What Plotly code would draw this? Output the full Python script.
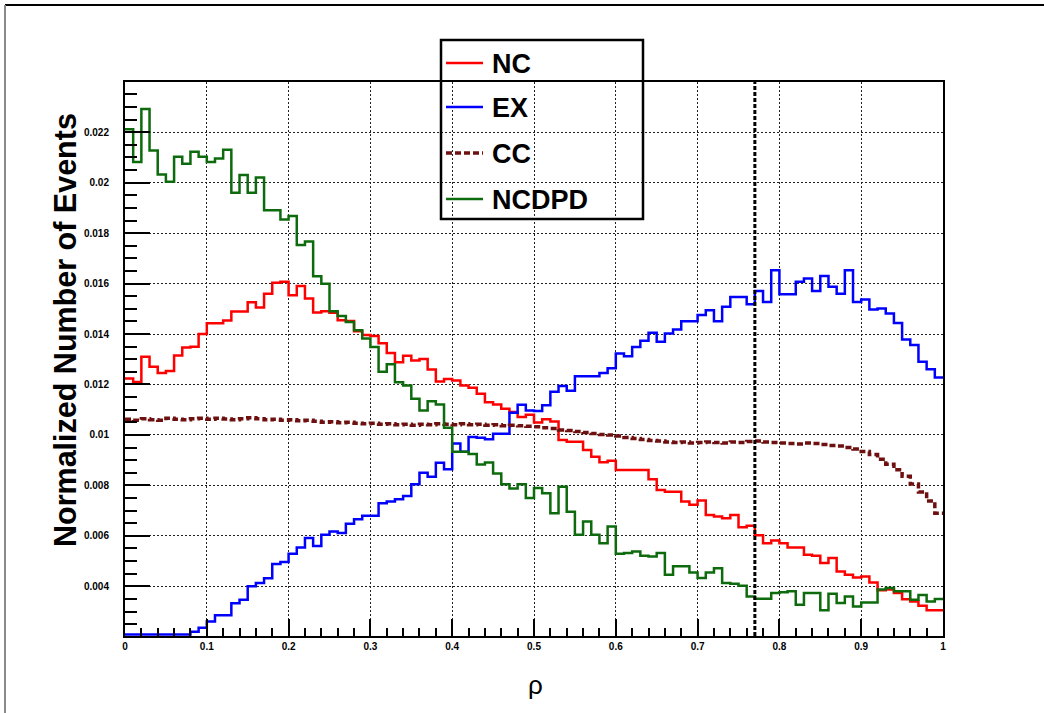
import numpy as np
import plotly.graph_objects as go

# ---- histogram definition: 100 bins over rho in [0, 1] ----
RHO_LO, RHO_HI, N_BINS = 0.0, 1.0, 100

# normalized bin contents
nc = [0.01224, 0.01210, 0.01310, 0.01270, 0.01246, 0.01253, 0.01315, 0.01347, 0.01350, 0.01400,
      0.01443, 0.01443, 0.01454, 0.01489, 0.01489, 0.01526, 0.01505, 0.01560, 0.01603, 0.01607,
      0.01554, 0.01590, 0.01541, 0.01485, 0.01490, 0.01484, 0.01455, 0.01452, 0.01411, 0.01396,
      0.01392, 0.01363, 0.01325, 0.01288, 0.01314, 0.01295, 0.01301, 0.01259, 0.01212, 0.01222,
      0.01216, 0.01196, 0.01187, 0.01163, 0.01130, 0.01121, 0.01104, 0.01091, 0.01071, 0.01080,
      0.01049, 0.01062, 0.01053, 0.00980, 0.00973, 0.00973, 0.00940, 0.00914, 0.00892, 0.00898,
      0.00861, 0.00861, 0.00861, 0.00861, 0.00824, 0.00782, 0.00775, 0.00775, 0.00736, 0.00723,
      0.00740, 0.00683, 0.00677, 0.00670, 0.00683, 0.00634, 0.00640, 0.00602, 0.00571, 0.00582,
      0.00571, 0.00554, 0.00554, 0.00525, 0.00521, 0.00492, 0.00512, 0.00459, 0.00446, 0.00435,
      0.00439, 0.00415, 0.00384, 0.00387, 0.00373, 0.00349, 0.00340, 0.00323, 0.00305, 0.00305]

ex = [0.0, 0.0, 0.0, 0.0, 0.0, 0.0, 0.0, 0.0, 0.00220, 0.00236,
      0.00260, 0.00285, 0.00285, 0.00333, 0.00347, 0.00400, 0.00413, 0.00432, 0.00488, 0.00496,
      0.00529, 0.00554, 0.00591, 0.00560, 0.00604, 0.00617, 0.00611, 0.00648, 0.00666, 0.00680,
      0.00680, 0.00729, 0.00736, 0.00745, 0.00758, 0.00805, 0.00850, 0.00834, 0.00890, 0.00864,
      0.00966, 0.00933, 0.00992, 0.00989, 0.00983, 0.01005, 0.01005, 0.01088, 0.01120, 0.01097,
      0.01095, 0.01118, 0.01171, 0.01194, 0.01175, 0.01233, 0.01233, 0.01233, 0.01246, 0.01264,
      0.01323, 0.01312, 0.01349, 0.01373, 0.01405, 0.01369, 0.01402, 0.01418, 0.01451, 0.01451,
      0.01475, 0.01494, 0.01451, 0.01508, 0.01547, 0.01547, 0.01518, 0.01571, 0.01527, 0.01653,
      0.01558, 0.01558, 0.01607, 0.01620, 0.01571, 0.01630, 0.01587, 0.01560, 0.01653, 0.01527,
      0.01537, 0.01497, 0.01501, 0.01481, 0.01444, 0.01378, 0.01356, 0.01290, 0.01260, 0.01228]

cc = [0.01062, 0.01058, 0.01064, 0.01060, 0.01058, 0.01066, 0.01062, 0.01060, 0.01064, 0.01066,
      0.01062, 0.01066, 0.01063, 0.01060, 0.01064, 0.01068, 0.01064, 0.01060, 0.01062, 0.01058,
      0.01060, 0.01056, 0.01058, 0.01054, 0.01050, 0.01052, 0.01048, 0.01050, 0.01046, 0.01044,
      0.01046, 0.01042, 0.01044, 0.01040, 0.01042, 0.01038, 0.01042, 0.01040, 0.01044, 0.01042,
      0.01040, 0.01044, 0.01040, 0.01042, 0.01038, 0.01040, 0.01036, 0.01038, 0.01036, 0.01034,
      0.01032, 0.01028, 0.01026, 0.01020, 0.01018, 0.01014, 0.01010, 0.01006, 0.01002, 0.01000,
      0.00996, 0.00990, 0.00986, 0.00982, 0.00978, 0.00976, 0.00972, 0.00970, 0.00972, 0.00968,
      0.00970, 0.00972, 0.00970, 0.00968, 0.00972, 0.00970, 0.00974, 0.00976, 0.00972, 0.00970,
      0.00968, 0.00966, 0.00964, 0.00968, 0.00966, 0.00962, 0.00958, 0.00956, 0.00950, 0.00944,
      0.00934, 0.00922, 0.00904, 0.00884, 0.00862, 0.00836, 0.00806, 0.00774, 0.00738, 0.00690]

ncdpd = [0.02212, 0.02082, 0.02292, 0.02127, 0.02032, 0.02004, 0.02103, 0.02075, 0.02123, 0.02103,
         0.02082, 0.02096, 0.02130, 0.01960, 0.02030, 0.01960, 0.02020, 0.01891, 0.01891, 0.01854,
         0.01868, 0.01753, 0.01767, 0.01629, 0.01599, 0.01490, 0.01471, 0.01448, 0.01415, 0.01382,
         0.01349, 0.01250, 0.01280, 0.01209, 0.01196, 0.01143, 0.01097, 0.01134, 0.01121, 0.01028,
         0.00933, 0.00933, 0.00924, 0.00883, 0.00891, 0.00847, 0.00805, 0.00788, 0.00805, 0.00750,
         0.00790, 0.00769, 0.00690, 0.00795, 0.00696, 0.00604, 0.00657, 0.00604, 0.00571, 0.00637,
         0.00529, 0.00532, 0.00538, 0.00521, 0.00518, 0.00532, 0.00446, 0.00479, 0.00479, 0.00455,
         0.00433, 0.00455, 0.00472, 0.00413, 0.00410, 0.00402, 0.00360, 0.00351, 0.00351, 0.00373,
         0.00376, 0.00380, 0.00327, 0.00373, 0.00373, 0.00305, 0.00370, 0.00334, 0.00360, 0.00320,
         0.00336, 0.00336, 0.00387, 0.00393, 0.00380, 0.00380, 0.00347, 0.00366, 0.00340, 0.00350]

series_names = ["NC", "EX", "CC", "NCDPD"]
y_tick_vals = [0.004, 0.006, 0.008, 0.010, 0.012, 0.014, 0.016, 0.018, 0.020, 0.022]
y_tick_text = ["0.004", "0.006", "0.008", "0.01", "0.012", "0.014", "0.016", "0.018", "0.02", "0.022"]
RHO_CUT = 0.77

# ---- styling ----
Y_RANGE = [0.00203, 0.02399]
COLORS = {"NC": "#ff0000", "EX": "#0000ff", "CC": "#6e1010", "NCDPD": "#0d6b0d"}
DASHES = {"NC": "solid", "EX": "solid", "CC": "6px,3px", "NCDPD": "solid"}
WIDTHS = {"NC": 2.5, "EX": 2.5, "CC": 3.5, "NCDPD": 2.5}
FONT = "Liberation Sans, Arial, Helvetica, sans-serif"

W, H = 1044, 713
ML, MR, MT, MB = 125, 101, 82, 77
PW, PH = W - ML - MR, H - MT - MB


def px_x(x):
    return (x - ML) / PW


def px_y(y):
    return (H - MB - y) / PH


edges = np.linspace(RHO_LO, RHO_HI, N_BINS + 1)
# contents below the axis minimum are drawn along the bottom of the frame
floor = Y_RANGE[0] + 0.00006


def step_xy(vals):
    v = np.maximum(np.asarray(vals, dtype=float), floor)
    return edges, np.append(v, v[-1])


fig = go.Figure()
for name, vals in zip(series_names, [nc, ex, cc, ncdpd]):
    xs, ys = step_xy(vals)
    fig.add_trace(go.Scatter(
        x=xs, y=ys, mode="lines", name=name, line_shape="hv",
        line=dict(color=COLORS[name], width=WIDTHS[name], dash=DASHES[name]),
        showlegend=False, hoverinfo="skip"))

shapes = []
# cut on rho
shapes.append(dict(type="line", xref="x", yref="paper", x0=RHO_CUT, x1=RHO_CUT, y0=0, y1=1,
                   line=dict(color="black", width=3, dash="4px,2px")))

# legend box and entries
shapes.append(dict(type="rect", xref="paper", yref="paper",
                   x0=px_x(441), x1=px_x(643), y0=px_y(219), y1=px_y(40),
                   line=dict(color="black", width=2.5), fillcolor="rgba(0,0,0,0)"))
annotations = []
legend_rows = [63, 107, 153, 199]
for name, yc in zip(series_names, legend_rows):
    shapes.append(dict(type="line", xref="paper", yref="paper",
                       x0=px_x(446), x1=px_x(483), y0=px_y(yc), y1=px_y(yc),
                       line=dict(color=COLORS[name], width=WIDTHS[name], dash=DASHES[name])))
    annotations.append(dict(xref="paper", yref="paper", x=px_x(490), y=px_y(yc + 1),
                            xanchor="left", yanchor="middle", showarrow=False, text=name,
                            font=dict(family=FONT, size=27, color="black", weight="bold")))

# canvas border (top and left edges)
shapes.append(dict(type="line", xref="paper", yref="paper", x0=px_x(5), x1=px_x(W),
                   y0=px_y(5), y1=px_y(5), line=dict(color="black", width=2)))
shapes.append(dict(type="line", xref="paper", yref="paper", x0=px_x(5), x1=px_x(5),
                   y0=px_y(5), y1=px_y(H), line=dict(color="#8a8a8a", width=2)))

# axis titles
annotations.append(dict(xref="paper", yref="paper", x=px_x(65), y=px_y(330), textangle=-90,
                        xanchor="center", yanchor="middle", showarrow=False,
                        text="Normalized Number of Events",
                        font=dict(family=FONT, size=30.5, color="black", weight="bold")))
annotations.append(dict(xref="paper", yref="paper", x=px_x(535), y=px_y(685),
                        xanchor="center", yanchor="middle", showarrow=False, text="ρ",
                        font=dict(family=FONT, size=26, color="black")))

grid_style = dict(showgrid=True, gridcolor="#222222", gridwidth=1, griddash="2px,2px")

fig.update_layout(
    width=W, height=H, margin=dict(l=ML, r=MR, t=MT, b=MB),
    paper_bgcolor="white", plot_bgcolor="white",
    shapes=shapes, annotations=annotations, showlegend=False,
    xaxis=dict(range=[RHO_LO, RHO_HI], tick0=0, dtick=0.1, ticks="inside", ticklen=17,
               tickwidth=2, tickcolor="black", showline=True, linecolor="black", linewidth=2,
               mirror=True, zeroline=False, ticklabelstandoff=0,
               tickfont=dict(family=FONT, size=10, color="black", weight="bold"),
               minor=dict(tick0=0, dtick=0.02, ticks="inside", ticklen=8, tickwidth=2,
                          tickcolor="black", showgrid=False),
               **grid_style),
    yaxis=dict(range=Y_RANGE, tickmode="array", tickvals=y_tick_vals, ticktext=y_tick_text,
               ticks="inside", ticklen=25, tickwidth=2, tickcolor="black",
               showline=True, linecolor="black", linewidth=2, mirror=True, zeroline=False,
               ticklabelstandoff=12,
               tickfont=dict(family=FONT, size=10, color="black", weight="bold"),
               minor=dict(tick0=0.004, dtick=0.0005, ticks="inside", ticklen=12, tickwidth=2,
                          tickcolor="black", showgrid=False),
               **grid_style),
)

fig.write_html("out.html")
